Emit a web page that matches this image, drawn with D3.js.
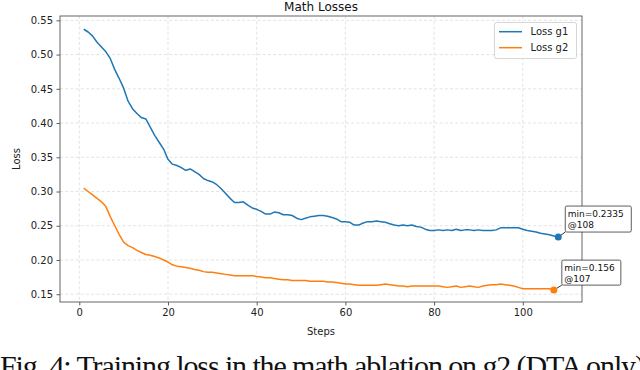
<!DOCTYPE html>
<html><head><meta charset="utf-8">
<script src="https://cdn.jsdelivr.net/npm/d3@7"></script>
<style>html,body{margin:0;padding:0;background:#fff;overflow:hidden}</style>
</head><body>
<svg id="chart" width="640" height="370"></svg>
<script>
const title = "Math Losses";
const xLabel = "Steps";
const yLabel = "Loss";
const seriesNames = ["Loss g1", "Loss g2"];
const seriesColors = ["#1f77b4", "#ff7f0e"];
const xTicks = [0, 20, 40, 60, 80, 100];
const yTicks = [0.15, 0.20, 0.25, 0.30, 0.35, 0.40, 0.45, 0.50, 0.55];
const lossG1 = [0.537,0.533,0.527,0.518,0.511,0.504,0.494,0.478,0.465,0.451,
0.432,0.421,0.414,0.408,0.406,0.394,0.382,0.372,0.362,0.347,
0.340,0.338,0.335,0.331,0.333,0.329,0.325,0.319,0.316,0.314,
0.310,0.304,0.297,0.290,0.284,0.284,0.285,0.280,0.276,0.274,
0.271,0.267,0.267,0.270,0.269,0.266,0.266,0.265,0.261,0.259,
0.261,0.263,0.264,0.265,0.265,0.264,0.262,0.260,0.256,0.256,
0.255,0.251,0.251,0.254,0.256,0.256,0.257,0.256,0.255,0.253,
0.251,0.250,0.251,0.250,0.251,0.249,0.248,0.245,0.243,0.243,
0.244,0.243,0.244,0.243,0.245,0.243,0.244,0.244,0.243,0.244,
0.243,0.243,0.243,0.244,0.247,0.247,0.247,0.247,0.247,0.245,
0.243,0.242,0.241,0.239,0.238,0.237,0.235,0.2335];
const lossG2 = [0.305,0.300,0.295,0.290,0.285,0.278,0.263,0.250,0.237,0.226,
0.221,0.218,0.214,0.211,0.208,0.207,0.205,0.203,0.200,0.197,
0.193,0.191,0.190,0.189,0.188,0.186,0.185,0.183,0.182,0.182,
0.181,0.180,0.179,0.178,0.177,0.177,0.177,0.177,0.177,0.176,
0.175,0.174,0.174,0.173,0.172,0.171,0.171,0.170,0.170,0.170,
0.170,0.169,0.169,0.169,0.169,0.168,0.168,0.167,0.166,0.165,
0.165,0.164,0.163,0.163,0.163,0.163,0.163,0.164,0.165,0.164,
0.163,0.162,0.162,0.161,0.162,0.162,0.162,0.162,0.162,0.162,
0.162,0.161,0.160,0.161,0.162,0.160,0.161,0.162,0.161,0.160,
0.162,0.163,0.164,0.164,0.165,0.164,0.163,0.162,0.160,0.158,
0.158,0.158,0.158,0.158,0.158,0.158,0.156];
const minLabels = [["min=0.2335","@108"],["min=0.156","@107"]];
const caption = "Fig. 4: Training loss in the math ablation on g2 (DTA only)";

const svg = d3.select("#chart");
const m = {l:60, r:582, t:16, b:302};
const x = d3.scaleLinear().domain([-4.35, 113.35]).range([m.l, m.r]);
const y = d3.scaleLinear().domain([0.13865, 0.55635]).range([m.b, m.t]);
const font = "DejaVu Sans, sans-serif";

// grid
const g = svg.append("g");
g.selectAll(".gx").data(xTicks).enter().append("line")
  .attr("x1", d=>x(d)).attr("x2", d=>x(d)).attr("y1", m.t).attr("y2", m.b)
  .attr("stroke", "#dcdcdc").attr("stroke-width", 0.8).attr("stroke-dasharray", "3,2.2");
g.selectAll(".gy").data(yTicks).enter().append("line")
  .attr("y1", d=>y(d)).attr("y2", d=>y(d)).attr("x1", m.l).attr("x2", m.r)
  .attr("stroke", "#dcdcdc").attr("stroke-width", 0.8).attr("stroke-dasharray", "3,2.2");

// axes
const xAxis = d3.axisBottom(x).tickValues(xTicks).tickSize(3.5).tickPadding(3.5).tickFormat(d3.format("d"));
const yAxis = d3.axisLeft(y).tickValues(yTicks).tickSize(3.5).tickPadding(3.5).tickFormat(d3.format(".2f"));
const gx = svg.append("g").attr("transform", `translate(0,${m.b})`).call(xAxis);
const gy = svg.append("g").attr("transform", `translate(${m.l},0)`).call(yAxis);
[gx, gy].forEach(a => {
  a.select(".domain").remove();
  a.selectAll(".tick line").attr("stroke", "#333").attr("stroke-width", 0.8);
  a.selectAll(".tick text").attr("fill", "#222").style("font-family", font).style("font-size", "10px");
});

// lines
const line = d3.line().x((d,i)=>x(i+1)).y(d=>y(d));
[lossG1, lossG2].forEach((s, k) => {
  svg.append("path").datum(s).attr("d", line).attr("fill", "none")
    .attr("stroke", seriesColors[k]).attr("stroke-width", 1.5).attr("stroke-linejoin", "round");
});

// spines
svg.append("rect").attr("x", m.l).attr("y", m.t).attr("width", m.r-m.l).attr("height", m.b-m.t)
  .attr("fill", "none").attr("stroke", "#555").attr("stroke-width", 0.9);

// min markers and annotations
const mins = [lossG1, lossG2].map(s => {
  const v = d3.min(s); const i = s.lastIndexOf(v); return {step: i+1, v};
});
const boxes = [{dx: 7, dy: -31, w: 66, h: 26}, {dx: 8, dy: -30, w: 59, h: 25}];
mins.forEach((mm, k) => {
  const cx = x(mm.step), cy = y(mm.v);
  const b = boxes[k];
  const bx = cx + b.dx, by = cy + b.dy;
  svg.append("line").attr("x1", cx).attr("y1", cy).attr("x2", bx).attr("y2", by + b.h)
    .attr("stroke", "#000").attr("stroke-width", 0.8);
  svg.append("circle").attr("cx", cx).attr("cy", cy).attr("r", 3.5).attr("fill", seriesColors[k]);
  svg.append("rect").attr("x", bx).attr("y", by).attr("width", b.w).attr("height", b.h)
    .attr("rx", 1.5).attr("fill", "#fff").attr("stroke", "#333").attr("stroke-width", 0.8);
  minLabels[k].forEach((t, j) => {
    svg.append("text").attr("x", bx + 2.5).attr("y", by + 10.5 + j*11).text(t)
      .style("font-family", font).style("font-size", "9px").attr("fill", "#111");
  });
});

// legend
const lg = svg.append("g");
lg.append("rect").attr("x", 494.5).attr("y", 22.5).attr("width", 82).attr("height", 36)
  .attr("rx", 2).attr("fill", "#fff").attr("fill-opacity", 0.85).attr("stroke", "#ccc").attr("stroke-width", 0.8);
seriesNames.forEach((n, k) => {
  const yy = 31.7 + k*16;
  lg.append("line").attr("x1", 499).attr("x2", 522).attr("y1", yy).attr("y2", yy)
    .attr("stroke", seriesColors[k]).attr("stroke-width", 1.5);
  lg.append("text").attr("x", 530.5).attr("y", yy + 3.6).text(n)
    .style("font-family", font).style("font-size", "10px").attr("fill", "#222");
});

// titles
svg.append("text").attr("x", (m.l+m.r)/2).attr("y", 11).attr("text-anchor", "middle").text(title)
  .style("font-family", font).style("font-size", "12px").attr("fill", "#111");
svg.append("text").attr("x", (m.l+m.r)/2).attr("y", 335).attr("text-anchor", "middle").text(xLabel)
  .style("font-family", font).style("font-size", "10px").attr("fill", "#222");
svg.append("text").attr("transform", `translate(20,${(m.t+m.b)/2}) rotate(-90)`).attr("text-anchor", "middle").text(yLabel)
  .style("font-family", font).style("font-size", "10px").attr("fill", "#222");

// caption (cut off at bottom)
svg.append("text").attr("x", 0).attr("y", 376).text(caption)
  .attr("textLength", 645).attr("lengthAdjust", "spacing")
  .style("font-family", "Liberation Serif, Times New Roman, serif").style("font-size", "30px").attr("fill", "#111");
</script>
</body></html>
